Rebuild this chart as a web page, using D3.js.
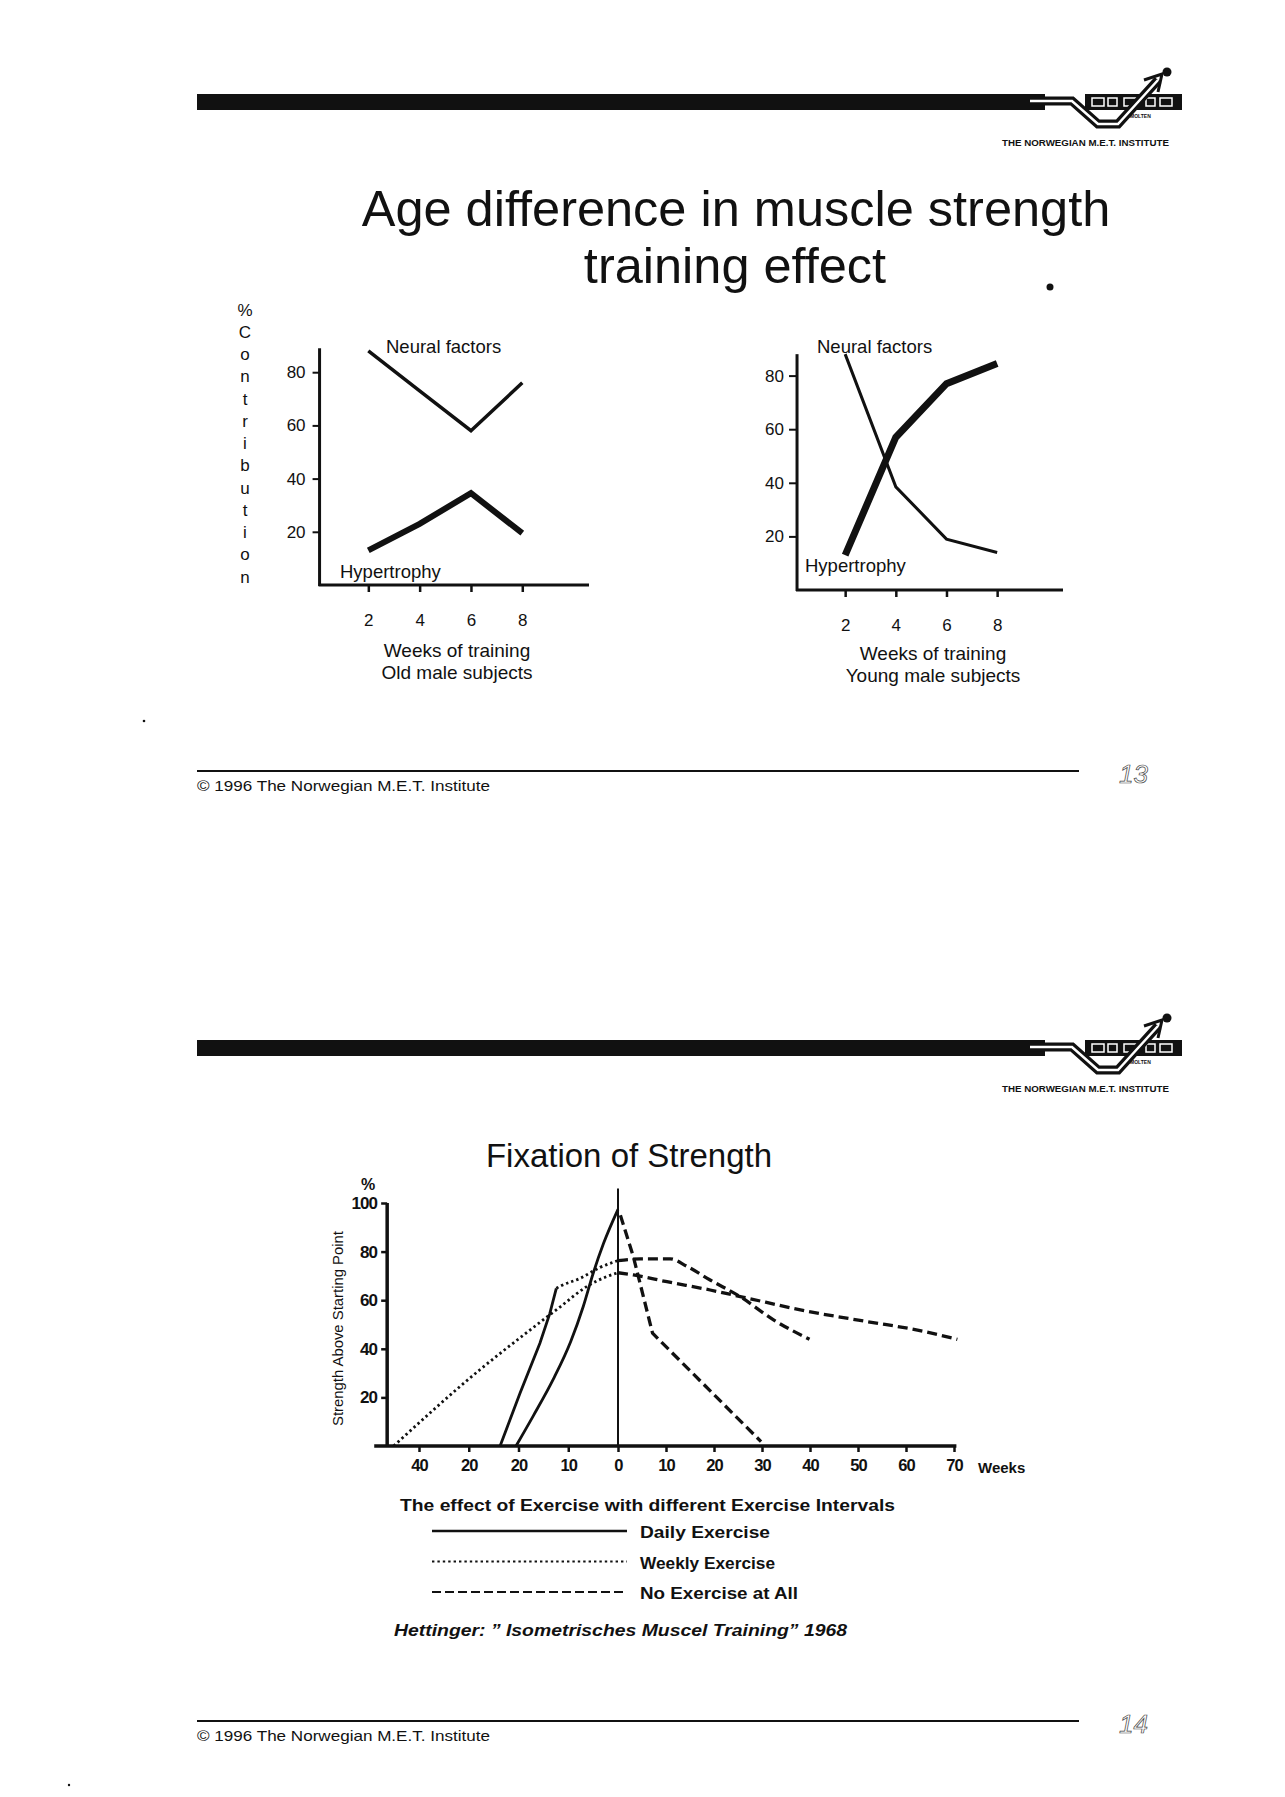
<!DOCTYPE html>
<html>
<head>
<meta charset="utf-8">
<script src="https://cdn.jsdelivr.net/npm/d3@7"></script>
<style>
  body { margin: 0; background: #fff; }
  svg { display: block; }
  text { font-family: "Liberation Sans", Arial, sans-serif; fill: #111; }
</style>
</head>
<body>
<svg id="page" width="1285" height="1797"></svg>
<script>
// ---- slide 13 data ----
const weeks = [2, 4, 6, 8];
const oldNeural = [88, 73, 58, 76];
const oldHypertrophy = [13, 23, 34.5, 19.5];
const youngNeural = [88, 38.5, 19, 14];
const youngHypertrophy = [13, 57, 77, 84.5];
const contribTicks = [20, 40, 60, 80];

// ---- slide 14 data: [week, % above starting point] ----
const dailyFast = [[-23.7, 0], [-19.7, 21.7], [-15.7, 42.3], [-13.7, 54.6], [-12.4, 64.9]];
const weeklyAfterDaily = [[-12.4, 64.9], [-11.6, 65.8], [-7.6, 69], [-3.6, 73.5], [0, 76.3]];
const stopAfterMixed = [[0, 76.3], [4.6, 77], [10.9, 77], [14.3, 74], [19.2, 68.3], [25.5, 61.4], [32.4, 51.9], [39.9, 43.9]];
const dailyCurve = [[-20.5, 0], [-17, 12.5], [-13, 27.5], [-9.5, 43], [-7, 57.3], [-5, 71], [-2.9, 83.4], [0, 97.4]];
const stopAfterDaily = [[0.5, 95], [3.2, 77.9], [5.3, 61.4], [7.2, 46.4], [29.8, 1.8]];
const weeklyCurve = [[-45.1, 0], [-27.7, 31.5], [-17.7, 47.7], [-11.6, 57.3], [-6.3, 65.6], [-2.3, 69.7], [0, 71.3]];
const stopAfterWeekly = [[0, 71.3], [3.2, 70.4], [10.2, 67.6], [19.2, 64.2], [26.2, 61.2], [38, 56], [51.9, 51.2], [62.4, 47.7], [70.7, 43.9]];
const strengthTicks = [20, 40, 60, 80, 100];
const weekTicks = [-40, -30, -20, -10, 0, 10, 20, 30, 40, 50, 60, 70];
const weekTickLabels = ["40", "20", "20", "10", "0", "10", "20", "30", "40", "50", "60", "70"];
const legendLabels = ["Daily Exercise", "Weekly Exercise", "No Exercise at All"];

const INK = "#111";
const svg = d3.select("#page");
svg.append("rect").attr("width", 1285).attr("height", 1797).attr("fill", "#fff");

// header bar with the institute logo
function drawHeader(dy) {
  const g = svg.append("g").attr("transform", `translate(0,${dy})`);
  g.append("rect").attr("x", 197).attr("y", 94).attr("width", 848).attr("height", 16).attr("fill", INK);
  g.append("rect").attr("x", 1085).attr("y", 94).attr("width", 97).attr("height", 16).attr("fill", INK);
  // white lettering blocks inside the logo bar
  [1092, 1108, 1124, 1146, 1160].forEach((x, i) => {
    g.append("rect").attr("x", x).attr("y", 98).attr("width", i % 2 ? 9 : 12).attr("height", 8)
      .attr("fill", "none").attr("stroke", "#fff").attr("stroke-width", 1.5);
  });
  const swoosh = "M1030,101 L1072,101 L1098,124 L1118,124 L1158,80";
  g.append("path").attr("d", swoosh).attr("fill", "none").attr("stroke", INK).attr("stroke-width", 9);
  g.append("path").attr("d", swoosh).attr("fill", "none").attr("stroke", "#fff").attr("stroke-width", 2.5);
  g.append("path").attr("d", "M1144,80 L1162,74 L1158,92").attr("fill", "none").attr("stroke", INK).attr("stroke-width", 3);
  g.append("circle").attr("cx", 1167).attr("cy", 72).attr("r", 4.5).attr("fill", INK);
  g.append("text").attr("x", 1130).attr("y", 118).attr("font-size", 5).attr("font-weight", "bold").text("MOLTEN");
  g.append("text").attr("x", 1002).attr("y", 146).attr("font-size", 8.5).attr("font-weight", "bold")
    .attr("textLength", 167).attr("lengthAdjust", "spacingAndGlyphs").text("THE NORWEGIAN M.E.T. INSTITUTE");
}

function drawFooter(lineY, label) {
  svg.append("line").attr("x1", 197).attr("x2", 1079).attr("y1", lineY).attr("y2", lineY)
    .attr("stroke", INK).attr("stroke-width", 2.2);
  svg.append("text").attr("x", 197).attr("y", lineY + 20).attr("font-size", 15)
    .attr("textLength", 293).attr("lengthAdjust", "spacingAndGlyphs")
    .text("\u00a9 1996 The Norwegian M.E.T. Institute");
  svg.append("text").attr("x", 1119).attr("y", lineY + 12).attr("font-size", 26).attr("font-style", "italic")
    .style("fill", "none").attr("stroke", "#444").attr("stroke-width", 0.7).text(label);
}

drawHeader(0);
drawHeader(946);
drawFooter(771, "13");
drawFooter(1721, "14");

// ---- slide 13 title ----
svg.append("text").attr("x", 736).attr("y", 226).attr("text-anchor", "middle").attr("font-size", 50.5)
  .text("Age difference in muscle strength");
svg.append("text").attr("x", 735).attr("y", 283).attr("text-anchor", "middle").attr("font-size", 50.5)
  .text("training effect");

// stray specks of the scan
svg.append("circle").attr("cx", 1050).attr("cy", 287).attr("r", 3.5).attr("fill", INK);
svg.append("circle").attr("cx", 144).attr("cy", 721).attr("r", 1.3).attr("fill", INK);

// vertical "% Contribution"
"%Contribution".split("").forEach((ch, i) => {
  svg.append("text").attr("x", 245).attr("y", 310 + i * 22.25).attr("text-anchor", "middle")
    .attr("dominant-baseline", "central").attr("font-size", 17).text(ch);
});

function weeksChart(cfg) {
  const x = d3.scaleLinear().domain([0, 10.6]).range(cfg.xRange);
  const y = d3.scaleLinear().domain([0, 100]).range(cfg.yRange);
  const g = svg.append("g");

  const yAxis = g.append("g").attr("transform", `translate(${x(cfg.axisWeek)},0)`)
    .call(d3.axisLeft(y).tickValues(contribTicks).tickSize(cfg.tickLen).tickPadding(cfg.pad).tickSizeOuter(0));
  yAxis.select(".domain").remove();
  yAxis.selectAll("line").attr("stroke", INK).attr("stroke-width", 2);
  yAxis.selectAll("text").attr("font-size", 17).attr("font-family", null).style("fill", INK);

  const xAxis = g.append("g").attr("transform", `translate(0,${y(0)})`)
    .call(d3.axisBottom(x).tickValues(weeks).tickSize(7).tickPadding(22).tickSizeOuter(0));
  xAxis.select(".domain").remove();
  xAxis.selectAll("line").attr("stroke", INK).attr("stroke-width", 2.5);
  xAxis.selectAll("text").attr("font-size", 17).attr("font-family", null).style("fill", INK);

  // axis lines
  g.append("line").attr("x1", x(cfg.axisWeek)).attr("x2", x(cfg.axisWeek))
    .attr("y1", y(0) + 1).attr("y2", y(cfg.axisTop)).attr("stroke", INK).attr("stroke-width", 3);
  g.append("line").attr("x1", x(cfg.axisWeek) - 1).attr("x2", x(10.6))
    .attr("y1", y(0)).attr("y2", y(0)).attr("stroke", INK).attr("stroke-width", 3.2);

  const line = d3.line().x((d, i) => x(weeks[i])).y(d => y(d));
  g.append("path").attr("d", line(cfg.neural)).attr("fill", "none").attr("stroke", INK)
    .attr("stroke-width", cfg.neuralW).attr("stroke-linejoin", "miter");
  g.append("path").attr("d", line(cfg.hyper)).attr("fill", "none").attr("stroke", INK)
    .attr("stroke-width", cfg.hyperW).attr("stroke-linejoin", "miter");

  g.append("text").attr("x", cfg.neuralLabel[0]).attr("y", cfg.neuralLabel[1]).attr("font-size", 18.5).text("Neural factors");
  g.append("text").attr("x", cfg.hyperLabel[0]).attr("y", cfg.hyperLabel[1]).attr("font-size", 18.5).text("Hypertrophy");
  g.append("text").attr("x", cfg.captionX).attr("y", cfg.captionY).attr("text-anchor", "middle").attr("font-size", 19)
    .text("Weeks of training");
  g.append("text").attr("x", cfg.captionX).attr("y", cfg.captionY + 22).attr("text-anchor", "middle").attr("font-size", 19)
    .text(cfg.subjects);
}

weeksChart({
  xRange: [317, 589], yRange: [585, 319], axisWeek: 0.1, axisTop: 89, tickLen: 7, pad: 7,
  neural: oldNeural, hyper: oldHypertrophy, neuralW: 3.5, hyperW: 6,
  neuralLabel: [386, 353], hyperLabel: [340, 578], captionX: 457, captionY: 657,
  subjects: "Old male subjects"
});
weeksChart({
  xRange: [794.5, 1063], yRange: [590, 322], axisWeek: 0.1, axisTop: 88, tickLen: 8, pad: 5,
  neural: youngNeural, hyper: youngHypertrophy, neuralW: 3, hyperW: 7,
  neuralLabel: [817, 353], hyperLabel: [805, 572], captionX: 933, captionY: 660,
  subjects: "Young male subjects"
});

// ---- slide 14: Fixation of Strength ----
svg.append("text").attr("x", 629).attr("y", 1167).attr("text-anchor", "middle").attr("font-size", 33)
  .text("Fixation of Strength");

const fx = d3.scaleLinear().domain([-40, 0, 70]).range([419, 618, 954]);
const fy = d3.scaleLinear().domain([0, 100]).range([1446, 1203]);
const axisX = fx(-46.4);
const fig = svg.append("g");

const fyAxis = fig.append("g").attr("transform", `translate(${axisX},0)`)
  .call(d3.axisLeft(fy).tickValues(strengthTicks).tickSize(6).tickPadding(4).tickSizeOuter(0));
fyAxis.select(".domain").remove();
fyAxis.selectAll("line").attr("stroke", INK).attr("stroke-width", 2.5);
fyAxis.selectAll("text").attr("font-size", 17).attr("font-weight", "bold").attr("font-family", null)
  .attr("letter-spacing", -0.9).style("fill", INK);

const fxAxis = fig.append("g").attr("transform", `translate(0,${fy(0)})`)
  .call(d3.axisBottom(fx).tickValues(weekTicks).tickFormat((d, i) => weekTickLabels[i])
    .tickSize(6).tickPadding(7).tickSizeOuter(0));
fxAxis.select(".domain").remove();
fxAxis.selectAll("line").attr("stroke", INK).attr("stroke-width", 2.5);
fxAxis.selectAll("text").attr("font-size", 16.5).attr("font-weight", "bold").attr("font-family", null)
  .attr("letter-spacing", -0.9).style("fill", INK);

fig.append("line").attr("x1", axisX).attr("x2", axisX).attr("y1", fy(0) + 1).attr("y2", fy(100))
  .attr("stroke", INK).attr("stroke-width", 3.5);
fig.append("line").attr("x1", fx(-49)).attr("x2", fx(70.5)).attr("y1", fy(0)).attr("y2", fy(0))
  .attr("stroke", INK).attr("stroke-width", 3.5);
fig.append("line").attr("x1", fx(0)).attr("x2", fx(0)).attr("y1", fy(0)).attr("y2", fy(106))
  .attr("stroke", INK).attr("stroke-width", 2);

fig.append("text").attr("x", axisX - 19).attr("y", fy(105) - 1).attr("text-anchor", "middle")
  .attr("font-size", 16).attr("font-weight", "bold").text("%");
fig.append("text").attr("transform", `translate(${axisX - 44},${fy(50) + 4}) rotate(-90)`)
  .attr("text-anchor", "middle").attr("font-size", 14).attr("textLength", 195)
  .attr("lengthAdjust", "spacingAndGlyphs").text("Strength Above Starting Point");
fig.append("text").attr("x", fx(70) + 24).attr("y", fy(0) + 27).attr("font-size", 15)
  .attr("font-weight", "bold").text("Weeks");

const styles = {
  daily: { w: 2.8, dash: null },
  weekly: { w: 2.8, dash: "2.4,3" },
  none: { w: 3.3, dash: "10,5" }
};
const curves = [
  { pts: weeklyCurve, s: "weekly", smooth: true },
  { pts: stopAfterWeekly, s: "none", smooth: true },
  { pts: dailyFast, s: "daily", smooth: false },
  { pts: weeklyAfterDaily, s: "weekly", smooth: true },
  { pts: stopAfterMixed, s: "none", smooth: true },
  { pts: dailyCurve, s: "daily", smooth: true },
  { pts: stopAfterDaily, s: "none", smooth: false }
];
curves.forEach(c => {
  const gen = d3.line().x(d => fx(d[0])).y(d => fy(d[1]))
    .curve(c.smooth ? d3.curveMonotoneX : d3.curveLinear);
  fig.append("path").attr("d", gen(c.pts)).attr("fill", "none").attr("stroke", INK)
    .attr("stroke-width", styles[c.s].w).attr("stroke-dasharray", styles[c.s].dash);
});

// legend
svg.append("text").attr("x", 400).attr("y", 1511).attr("font-size", 17).attr("font-weight", "bold")
  .attr("textLength", 495).attr("lengthAdjust", "spacingAndGlyphs")
  .text("The effect of Exercise with different Exercise Intervals");
const legendKeys = ["daily", "weekly", "none"];
const legendWidths = [130, 135, 158];
legendLabels.forEach((lab, i) => {
  const ly = 1531 + i * 30.5;
  svg.append("line").attr("x1", 432).attr("x2", 627).attr("y1", ly).attr("y2", ly).attr("stroke", INK)
    .attr("stroke-width", legendKeys[i] === "daily" ? 2.6 : 2.2)
    .attr("stroke-dasharray", legendKeys[i] === "none" ? "9,4" : styles[legendKeys[i]].dash);
  svg.append("text").attr("x", 640).attr("y", ly + 7).attr("font-size", 16.5).attr("font-weight", "bold")
    .attr("textLength", legendWidths[i]).attr("lengthAdjust", "spacingAndGlyphs").text(lab);
});
svg.append("text").attr("x", 394).attr("y", 1636).attr("font-size", 16.5).attr("font-weight", "bold")
  .attr("font-style", "italic").attr("textLength", 453).attr("lengthAdjust", "spacingAndGlyphs")
  .text("Hettinger: \u201d Isometrisches Muscel Training\u201d  1968");

svg.append("circle").attr("cx", 69).attr("cy", 1785).attr("r", 1.2).attr("fill", INK);
</script>
</body>
</html>
